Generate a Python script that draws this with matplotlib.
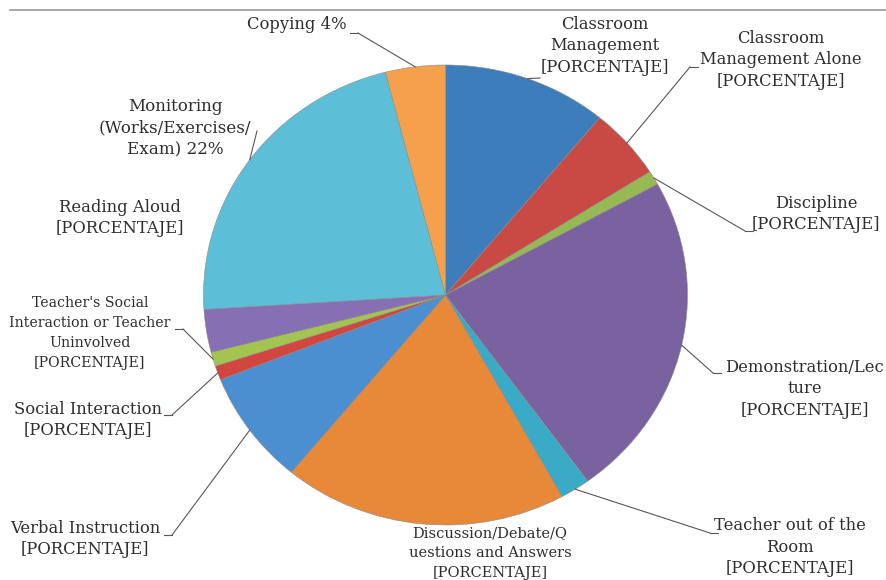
import numpy as np
import matplotlib
matplotlib.use("Agg")
import matplotlib.pyplot as plt

categories = [
    "Classroom Management", "Classroom Management Alone", "Discipline",
    "Demonstration/Lecture", "Teacher out of the Room",
    "Discussion/Debate/Questions and Answers", "Verbal Instruction",
    "Social Interaction", "Teacher's Social Interaction or Teacher Uninvolved",
    "Reading Aloud", "Monitoring (Works/Exercises/Exam)", "Copying",
]
values = [11, 5, 1, 23, 2, 19, 8, 1, 1, 3, 22, 4]
label_texts = [
    "Classroom\nManagement\n[PORCENTAJE]",
    "Classroom\nManagement Alone\n[PORCENTAJE]",
    "Discipline\n[PORCENTAJE]",
    "Demonstration/Lec\nture\n[PORCENTAJE]",
    "Teacher out of the\nRoom\n[PORCENTAJE]",
    "Discussion/Debate/Q\nuestions and Answers\n[PORCENTAJE]",
    "Verbal Instruction\n[PORCENTAJE]",
    "Social Interaction\n[PORCENTAJE]",
    "Teacher's Social\nInteraction or Teacher\nUninvolved\n[PORCENTAJE]",
    "Reading Aloud\n[PORCENTAJE]",
    "Monitoring\n(Works/Exercises/\nExam) 22%",
    "Copying 4%",
]
colors = ["#3d7dbb", "#c94a45", "#97b954", "#7a62a0", "#3aabc6", "#e8893a",
          "#4c8fd0", "#d2463f", "#a3c450", "#8670b3", "#5cbfd7", "#f4a04c"]

W, H = 887, 580
CX, CY, RX, RY = 445.5, 295, 242, 230


def px(x, y):
    # pixel position -> data coords (pie is unit radius at origin)
    return (x - CX) / RX, (CY - y) / RY


fig = plt.figure(figsize=(W / 100, H / 100), dpi=100)
ax = fig.add_axes([0, 0, 1, 1])
wedges, _ = ax.pie(values, colors=colors, startangle=90, counterclock=False,
                   radius=1, wedgeprops=dict(edgecolor="#8a8a8a", linewidth=0.4))
ax.set_aspect("auto")
ax.set_xlim(-CX / RX, (W - CX) / RX)
ax.set_ylim((CY - H) / RY, CY / RY)
ax.axis("off")

# label centre, font size, leader bend point (px) or None, tick direction
label_pos = [
    ((605, 46), 11.8, (540, 78), 0),
    ((781, 60), 11.8, (690, 67), 1),
    ((816, 214), 11.8, (745, 231), 1),
    ((805, 389), 11.8, (713, 373), 1),
    ((790, 547), 11.8, (710, 533), 1),
    ((490, 553), 10.5, None, 0),
    ((85, 539), 11.8, (172, 535), -1),
    ((88, 420), 11.8, (172, 415), -1),
    ((90, 333), 10.2, (183, 329), -1),
    ((120, 218), 11.8, None, 0),
    ((175, 128), 12.1, (257, 131), 0),
    ((297, 25), 11.8, (358, 33), -1),
]

txt_color = "#2e2e2e"
line_color = "#5e5552"
for w, txt, (c, fs, bend, td) in zip(wedges, label_texts, label_pos):
    ls = 1.37 if fs > 10.6 else 1.55
    ax.text(*px(*c), txt, ha="center", va="center", fontsize=fs,
            family="DejaVu Serif", color=txt_color, linespacing=ls)
    if bend is None:
        continue
    mid = np.deg2rad((w.theta1 + w.theta2) / 2)
    ex, ey = np.cos(mid), np.sin(mid)
    bx, by = px(*bend)
    ax.plot([ex, bx], [ey, by], color=line_color, lw=0.8)
    if td:
        tx, ty = px(bend[0] + 8 * td, bend[1])
        ax.plot([bx, tx], [by, ty], color=line_color, lw=0.8)

# thin frame line across the top
ax.plot([px(10, 10)[0], px(887, 10)[0]], [px(10, 10)[1]] * 2,
        color="#9a9a9a", lw=1.2)

fig.savefig("out.png", dpi=100, facecolor="white")
